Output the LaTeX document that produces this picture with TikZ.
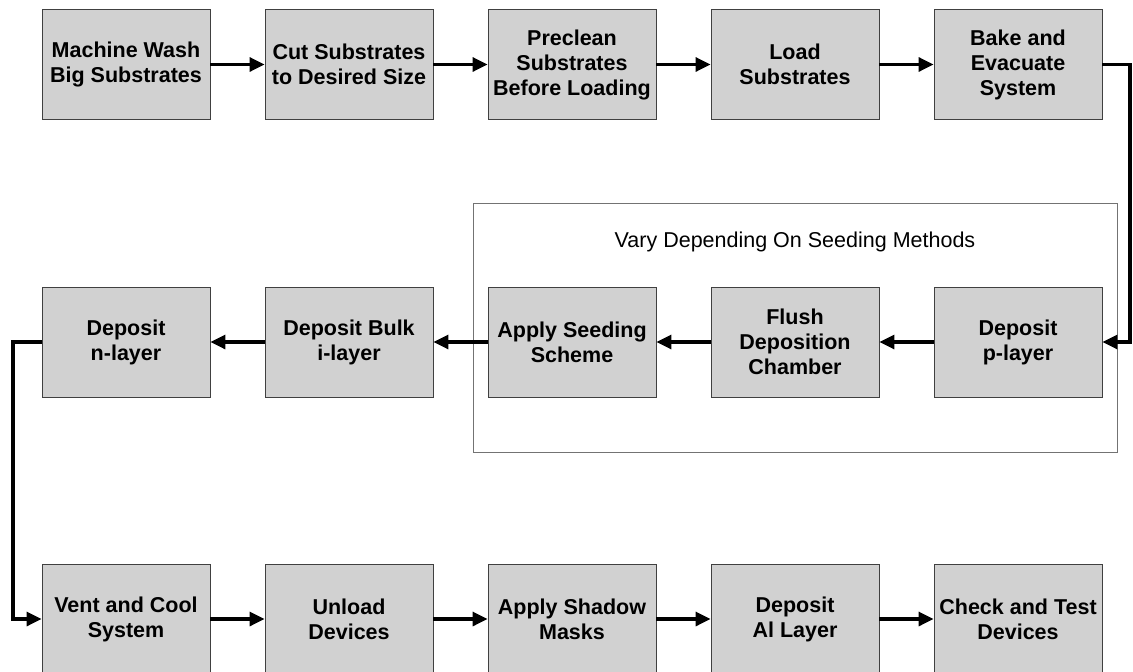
\documentclass[tikz,border=0pt]{standalone}
\usepackage{fontspec}
\setmainfont{Liberation Sans}
\usetikzlibrary{arrows.meta}

\tikzset{
    stepbox/.style={draw=black!75, line width=0.9pt, fill=black!18,
        minimum width=168pt, minimum height=110pt, inner sep=0pt,
        align=center, font=\fontsize{21.5}{25}\selectfont\bfseries},
    flow/.style={line width=3.2pt, -{Triangle[length=15pt,width=14pt]}},
    groupbox/.style={draw=black!55, line width=0.9pt}
}

\begin{document}
\begin{tikzpicture}[x=1pt, y=-1pt]

    \useasboundingbox (0,0) rectangle (1133,672);

    %% Seeding group frame
    \draw[groupbox] (473,203) rectangle (1117,452);
    \node[anchor=base, font=\fontsize{21.5}{25}\selectfont] (vary) at (795,247)
        {Vary Depending On Seeding Methods};

    %% Row 1
    \node[stepbox] (wash)   at (126,64.5)  {Machine Wash\\Big Substrates};
    \node[stepbox] (cut)    at (349,64.5)  {Cut Substrates\\to Desired Size};
    \node[stepbox] (clean)  at (572,64.5)  {Preclean\\Substrates\\Before Loading};
    \node[stepbox] (load)   at (795,64.5)  {Load\\Substrates};
    \node[stepbox] (bake)   at (1018,64.5) {Bake and\\Evacuate\\System};

    %% Row 2
    \node[stepbox] (nlayer) at (126,342)  {Deposit\\n-layer};
    \node[stepbox] (bulk)   at (349,342)  {Deposit Bulk\\i-layer};
    \node[stepbox] (seed)   at (572,342)  {Apply Seeding\\Scheme};
    \node[stepbox] (flush)  at (795,342)  {Flush\\Deposition\\Chamber};
    \node[stepbox] (player) at (1018,342) {Deposit\\p-layer};

    %% Row 3
    \node[stepbox] (vent)   at (126,619)  {Vent and Cool\\System};
    \node[stepbox] (unload) at (349,619)  {Unload\\Devices};
    \node[stepbox] (masks)  at (572,619)  {Apply Shadow\\Masks};
    \node[stepbox] (al)     at (795,619)  {Deposit\\Al Layer};
    \node[stepbox] (check)  at (1018,619) {Check and Test\\Devices};

    % Side rails
    \coordinate (rrail) at (1130,0);
    \coordinate (lrail) at (13,0);

    % Flow arrows
    \draw[flow] (wash) -- (cut);
    \draw[flow] (cut) -- (clean);
    \draw[flow] (clean) -- (load);
    \draw[flow] (load) -- (bake);
    \draw[flow] (bake.east) -- (bake.east -| rrail) |- (player.east);
    \draw[flow] (player) -- (flush);
    \draw[flow] (flush) -- (seed);
    \draw[flow] (seed) -- (bulk);
    \draw[flow] (bulk) -- (nlayer);
    \draw[flow] (nlayer.west) -- (nlayer.west -| lrail) |- (vent.west);
    \draw[flow] (vent) -- (unload);
    \draw[flow] (unload) -- (masks);
    \draw[flow] (masks) -- (al);
    \draw[flow] (al) -- (check);

\end{tikzpicture}
\end{document}
